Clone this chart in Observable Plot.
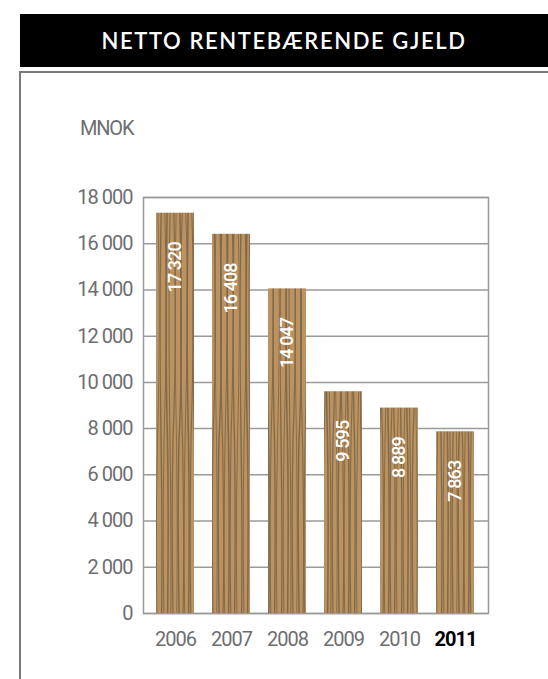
<!DOCTYPE html>
<html><head><meta charset="utf-8">
<script src="https://cdn.jsdelivr.net/npm/d3@7"></script>
<script src="https://cdn.jsdelivr.net/npm/@observablehq/plot@0.6"></script>
<style>
body{margin:0;background:#fff;}
#wrap{position:relative;width:548px;height:679px;overflow:hidden;}
#title{position:absolute;left:20px;top:14px;width:528px;height:53px;background:#000;color:#fff;font:600 22px Lato, "Open Sans", sans-serif;letter-spacing:1.6px;display:flex;align-items:center;justify-content:center;}
#frame{position:absolute;left:19px;top:71px;width:600px;height:700px;border-top:2px solid #7a7a7a;border-left:2px solid #7a7a7a;}
#unit{position:absolute;left:80px;top:116px;line-height:20px;font:20px Roboto, sans-serif;letter-spacing:-1.2px;color:#6d6e71;}
#chart{position:absolute;left:0;top:0;}
#chart text{letter-spacing:-1px;}
#chart g[aria-label="text"] text{letter-spacing:-0.9px;}
</style></head>
<body><div id="wrap"><div id="frame"></div><div id="title">NETTO RENTEBÆRENDE GJELD</div><div id="unit">MNOK</div><div id="chart"></div></div>
<script>
const years = ["2006","2007","2008","2009","2010","2011"];
const values = [17320,16408,14047,9595,8889,7863];
const valueLabels = ["17 320","16 408","14 047","9 595","8 889","7 863"];
const yTicks = [0,2000,4000,6000,8000,10000,12000,14000,16000,18000];
const yTickLabels = ["0","2 000","4 000","6 000","8 000","10 000","12 000","14 000","16 000","18 000"];
const highlightYear = "2011";

const data = years.map((year,i)=>({year, value: values[i], label: valueLabels[i]}));
const font = 'Roboto, sans-serif';

const plot = Plot.plot({
  width: 548, height: 679,
  marginLeft: 143, marginRight: 60, marginTop: 197, marginBottom: 66,
  style: {fontFamily: font, fontSize: "20px", color: "#6d6e71", background: "transparent"},
  x: {domain: years, paddingInner: 0.32, paddingOuter: 0.21, label: null},
  y: {domain: [0,18000], label: null},
  marks: [
    Plot.gridY(yTicks, {stroke: "#9a9a9a", strokeOpacity: 1, strokeWidth: 1.5}),
    Plot.frame({stroke: "#9a9a9a", strokeWidth: 1.5}),
    Plot.barY(data, {x: "year", y: "value", fill: "#b08a5a"}),
    Plot.text(data, {x: "year", y: "value", text: "label", rotate: -90, textAnchor: "end", lineAnchor: "middle", dy: 29, fill: "white", fontSize: 18, fontWeight: 500}),
    Plot.axisY({ticks: yTicks, tickFormat: d => yTickLabels[yTicks.indexOf(d)], tickSize: 0, tickPadding: 11, label: null, fill: "#6d6e71"}),
    Plot.axisX({ticks: years.filter(y => y !== highlightYear), tickSize: 0, tickPadding: 18, label: null, fill: "#6d6e71"}),
    Plot.axisX({ticks: [highlightYear], tickSize: 0, tickPadding: 18, label: null, fill: "black", fontWeight: "bold"})
  ]
});

// wood texture
const svg = d3.select(plot);
const defs = svg.insert("defs", ":first-child");
const pat = defs.append("pattern").attr("id","wood").attr("patternUnits","userSpaceOnUse").attr("width",40).attr("height",440);
pat.append("rect").attr("width",40).attr("height",440).attr("fill","#bb9260");
const grain = [
  "M1 0 Q3 110 1 220 T1 440",
  "M4 0 Q2 120 5 220 T4 440",
  "M7.5 0 Q9 90 7 220 T7.5 440",
  "M10 0 Q12 140 10 220 T10 440",
  "M13 0 Q11 100 14 220 T13 440",
  "M16.5 0 Q18 130 16 220 T16.5 440",
  "M19 0 Q17 80 20 220 T19 440",
  "M22.5 0 Q25 120 22 220 T22.5 440",
  "M25 0 Q23 150 26 220 T25 440",
  "M28.5 0 Q30 100 28 220 T28.5 440",
  "M31 0 Q29 130 32 220 T31 440",
  "M34.5 0 Q36 90 34 220 T34.5 440",
  "M37.5 0 Q35 120 38 220 T37.5 440"
];
const widths = [1.4,1.0,1.6,1.1,1.3,0.9,1.5,1.2,1.0,1.6,1.1,1.4,1.0];
grain.forEach((d,i) => pat.append("path").attr("d", d).attr("fill","none").attr("stroke","#7e6748").attr("stroke-width", widths[i]).attr("stroke-opacity",0.9));
svg.selectAll('g[aria-label="bar"] rect').attr("fill","url(#wood)");

document.getElementById("chart").appendChild(plot);
</script>
</body></html>
